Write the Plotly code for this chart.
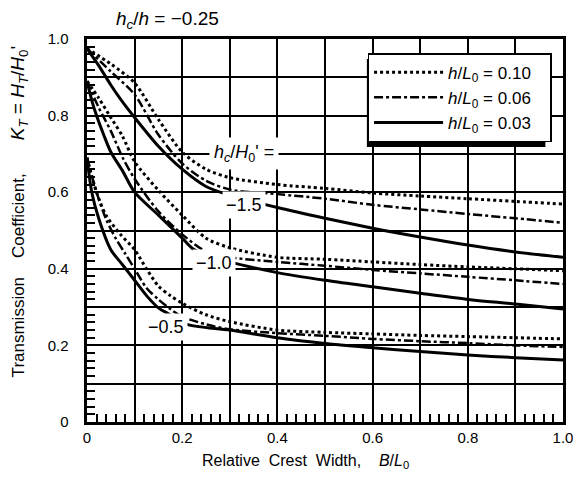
import plotly.graph_objects as go

# ---- data ----
B_m15_dot = [0, 0.05, 0.1, 0.15, 0.2, 0.25, 0.3, 0.4, 0.5, 0.6, 0.7, 0.8, 0.9, 1.0]
K_m15_dot = [0.975, 0.935, 0.885, 0.79, 0.705, 0.66, 0.638, 0.62, 0.61, 0.598, 0.59, 0.583, 0.576, 0.569]
B_m15_dd = [0, 0.05, 0.1, 0.15, 0.2, 0.25, 0.3, 0.4, 0.5, 0.6, 0.7, 0.8, 0.9, 1.0]
K_m15_dd = [0.975, 0.915, 0.855, 0.75, 0.675, 0.63, 0.607, 0.595, 0.583, 0.567, 0.555, 0.543, 0.532, 0.52]
B_m15_sol = [0, 0.025, 0.05, 0.075, 0.1, 0.15, 0.2, 0.25, 0.3, 0.4, 0.5, 0.6, 0.7, 0.8, 0.9, 1.0]
K_m15_sol = [0.975, 0.93, 0.88, 0.835, 0.795, 0.72, 0.66, 0.615, 0.592, 0.56, 0.532, 0.506, 0.483, 0.462, 0.444, 0.43]

B_m10_dot = [0, 0.025, 0.05, 0.075, 0.1, 0.15, 0.2, 0.25, 0.3, 0.4, 0.5, 0.6, 0.7, 0.8, 0.9, 1.0]
K_m10_dot = [0.89, 0.845, 0.795, 0.745, 0.68, 0.605, 0.54, 0.48, 0.455, 0.43, 0.425, 0.418, 0.411, 0.405, 0.4, 0.395]
B_m10_dd = [0, 0.025, 0.05, 0.075, 0.1, 0.15, 0.2, 0.25, 0.3, 0.4, 0.5, 0.6, 0.7, 0.8, 0.9, 1.0]
K_m10_dd = [0.89, 0.82, 0.76, 0.69, 0.635, 0.55, 0.49, 0.445, 0.43, 0.418, 0.408, 0.397, 0.388, 0.379, 0.37, 0.36]
B_m10_sol = [0, 0.01, 0.02, 0.035, 0.05, 0.075, 0.1, 0.15, 0.2, 0.225, 0.3, 0.4, 0.5, 0.6, 0.7, 0.8, 0.9, 1.0]
K_m10_sol = [0.89, 0.84, 0.80, 0.75, 0.705, 0.655, 0.60, 0.54, 0.48, 0.45, 0.418, 0.39, 0.37, 0.353, 0.336, 0.32, 0.308, 0.295]

B_m05_dot = [0, 0.02, 0.04, 0.07, 0.1, 0.125, 0.15, 0.175, 0.2, 0.25, 0.3, 0.4, 0.5, 0.6, 0.7, 0.8, 0.9, 1.0]
K_m05_dot = [0.69, 0.6, 0.54, 0.49, 0.45, 0.4, 0.355, 0.33, 0.31, 0.28, 0.262, 0.24, 0.234, 0.23, 0.226, 0.223, 0.22, 0.217]
B_m05_dd = [0, 0.02, 0.04, 0.06, 0.08, 0.1, 0.125, 0.15, 0.175, 0.2, 0.25, 0.3, 0.4, 0.5, 0.6, 0.7, 0.8, 0.9, 1.0]
K_m05_dd = [0.69, 0.6, 0.53, 0.48, 0.44, 0.4, 0.35, 0.32, 0.295, 0.275, 0.255, 0.242, 0.232, 0.225, 0.217, 0.211, 0.206, 0.2, 0.196]
B_m05_sol = [0, 0.01, 0.025, 0.05, 0.075, 0.1, 0.125, 0.15, 0.17, 0.21, 0.3, 0.4, 0.5, 0.6, 0.7, 0.8, 0.9, 1.0]
K_m05_sol = [0.69, 0.6, 0.53, 0.45, 0.41, 0.37, 0.33, 0.298, 0.283, 0.255, 0.24, 0.22, 0.205, 0.194, 0.184, 0.175, 0.168, 0.162]

# tick labels: gridlines every 0.1, labels every 0.2
x_alias = {"0.0": "0", "0.1": " ", "0.3": " ", "0.5": " ", "0.7": " ", "0.9": " "}
PAD = "\u00a0\u00a0\u00a0"
y_alias = {"0.0": "0" + PAD, "0.1": " ", "0.2": "0.2" + PAD, "0.3": " ", "0.4": "0.4" + PAD,
           "0.5": " ", "0.6": "0.6" + PAD, "0.7": " ", "0.8": "0.8" + PAD, "0.9": " ",
           "1.0": "1.0" + PAD}

curve_labels = ["\u22121.5", "\u22121.0", "\u22120.5"]
label_B = [0.33, 0.267, 0.165]
label_K = [0.566, 0.415, 0.248]

legend_names = ["<i>h</i>/<i>L</i><sub>0</sub> = 0.10&nbsp;&nbsp;&nbsp;",
                "<i>h</i>/<i>L</i><sub>0</sub> = 0.06&nbsp;&nbsp;&nbsp;",
                "<i>h</i>/<i>L</i><sub>0</sub> = 0.03&nbsp;&nbsp;&nbsp;"]

FONT = "Liberation Sans, Arial, sans-serif"

fig = go.Figure()

groups = [
    (B_m15_dot, K_m15_dot, B_m15_dd, K_m15_dd, B_m15_sol, K_m15_sol),
    (B_m10_dot, K_m10_dot, B_m10_dd, K_m10_dd, B_m10_sol, K_m10_sol),
    (B_m05_dot, K_m05_dot, B_m05_dd, K_m05_dd, B_m05_sol, K_m05_sol),
]
styles = [("dot", 3), ("dashdot", 2.5), ("solid", 3)]
for gi, g in enumerate(groups):
    for si in range(3):
        bx, ky = g[2 * si], g[2 * si + 1]
        dash, w = styles[si]
        fig.add_trace(go.Scatter(
            x=bx, y=ky, mode="lines",
            line=dict(color="black", width=w, dash=dash, shape="spline", smoothing=0.8),
            name=legend_names[si], legendgroup=str(si), showlegend=(gi == 0),
            legendrank=si,
        ))

tick_common = dict(
    range=[0, 1.0], tickmode="linear", tick0=0, dtick=0.1,
    ticks="inside", ticklen=8, tickwidth=2, tickcolor="black",
    minor=dict(dtick=0.02, ticks="inside", ticklen=8, tickwidth=2, tickcolor="black", showgrid=False),
    zeroline=False,
)
axis_main = dict(
    showline=True, linecolor="black", linewidth=3, mirror=True,
    showgrid=True, gridcolor="black", gridwidth=2,
    tickformat=".1f",
    tickfont=dict(family=FONT, size=15, color="black"),
    **tick_common,
)
axis_mirror = dict(showline=False, showgrid=False, showticklabels=False, **tick_common)

fig.update_layout(
    xaxis=dict(labelalias=x_alias, **axis_main),
    yaxis=dict(labelalias=y_alias, **axis_main),
    xaxis2=dict(overlaying="x", side="top", anchor="y", **axis_mirror),
    yaxis2=dict(overlaying="y", side="right", anchor="x", **axis_mirror),
)

# axis titles
fig.add_annotation(xref="paper", yref="paper", x=0.458, y=-0.104, xanchor="center", yanchor="middle",
                   text="Relative&nbsp;&nbsp;Crest&nbsp;&nbsp;Width,&nbsp;&nbsp;&nbsp; <i>B</i>/<i>L</i><sub>0</sub>",
                   showarrow=False, font=dict(family=FONT, size=16, color="black"))
fig.add_annotation(xref="paper", yref="paper", x=-0.142, y=0.551, xanchor="center", yanchor="middle",
                   textangle=-90,
                   text="Transmission&nbsp;&nbsp;&nbsp;&nbsp;Coefficient,&nbsp;&nbsp;&nbsp;&nbsp;&nbsp;&nbsp;&nbsp;"
                        "<span style='font-size:19px'><i>K<sub>T</sub></i> = <i>H<sub>T</sub></i>/<i>H</i><sub>0</sub>'</span>",
                   showarrow=False, font=dict(family=FONT, size=17, color="black"))

for t, bx, ky in zip(curve_labels, label_B, label_K):
    fig.add_annotation(x=bx, y=ky, text=t, showarrow=False, bgcolor="white",
                       font=dict(family=FONT, size=18, color="black"), borderpad=3)
fig.add_annotation(x=0.33, y=0.70, text="<i>h<sub>c</sub></i>/<i>H</i><sub>0</sub>' =",
                   showarrow=False, bgcolor="white", borderpad=4,
                   font=dict(family=FONT, size=18, color="black"))
fig.add_annotation(xref="paper", yref="paper", x=0.169, y=1.0, xanchor="center", yanchor="bottom", yshift=5,
                   text="<i>h<sub>c</sub></i>/<i>h</i> = \u22120.25", showarrow=False,
                   font=dict(family=FONT, size=19, color="black"))

# legend drop shadow
fig.add_shape(type="rect", xref="paper", yref="paper", x0=0.588, x1=0.963, y0=0.718, y1=0.948,
              fillcolor="black", line=dict(width=0), layer="above")

fig.update_layout(
    width=585, height=488,
    margin=dict(l=87, r=13, t=39, b=66),
    plot_bgcolor="white", paper_bgcolor="white",
    legend=dict(x=0.976, y=0.963, xanchor="right", yanchor="top",
                bgcolor="white", bordercolor="black", borderwidth=1.5,
                font=dict(family=FONT, size=17, color="black"),
                traceorder="normal", itemwidth=69, tracegroupgap=0),
)

fig.write_html("out.html")
